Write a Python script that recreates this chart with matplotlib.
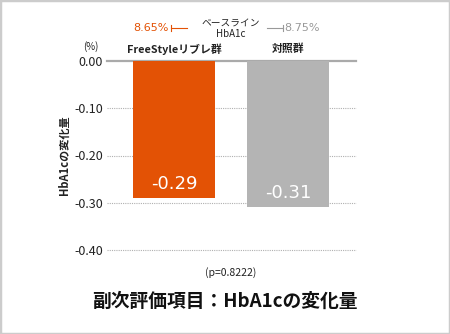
import matplotlib.pyplot as plt
from matplotlib.lines import Line2D
from matplotlib.patches import Rectangle

plt.rcParams['font.family'] = ['Noto Sans CJK JP', 'DejaVu Sans']

groups = ["FreeStyleリブレ群", "対照群"]
changes = [-0.29, -0.31]
baseline = ["8.65%", "8.75%"]
colors = ["#E35205", "#B4B4B4"]
yticks = [0.0, -0.1, -0.2, -0.3, -0.4]

W, H = 450, 334
fig = plt.figure(figsize=(4.5, 3.34), dpi=100)

def px(x, y):
    # pixel position from top-left -> figure fraction
    return x / W, 1 - y / H

ax = fig.add_axes([107 / W, 84 / H, 249 / W, 189 / H])
x = range(len(groups))
bars = ax.bar(x, changes, width=0.72, color=colors, zorder=3)
ax.set_xlim(-0.588, 1.596)
ax.set_ylim(-0.40, 0.0)

for t in yticks:
    if t == 0:
        ax.axhline(t, color="#aaaaaa", lw=1.6, zorder=2, clip_on=False)
    else:
        ax.axhline(t, color="#b0b0b0", lw=0.8, ls=(0, (1, 1)), zorder=2, clip_on=False)

ax.set_yticks(yticks)
ax.set_yticklabels([f"{t:.2f}" for t in yticks], fontsize=9, color="#222222")
ax.tick_params(axis="y", length=0, pad=3)
ax.set_xticks([])
for s in ax.spines.values():
    s.set_visible(False)
ax.patch.set_alpha(0)

for b, v in zip(bars, changes):
    ax.text(b.get_x() + b.get_width() / 2, v + 0.03, f"{v:.2f}", ha="center", va="center",
            color="white", fontsize=13, family=["DejaVu Sans"], zorder=4)

for i, g in enumerate(groups):
    ax.text(i, 0.025, g, ha="center", va="center", fontsize=7.8, fontweight="bold", color="#222222")

ax.set_ylabel("HbA1cの変化量", fontsize=8, fontweight="bold", labelpad=2, color="#222222")
fig.text(*px(91, 47), "(%)", ha="center", va="center", fontsize=7, color="#222222")

# baseline annotation
fig.text(*px(231, 29), "ベースライン\nHbA1c", ha="center", va="center", fontsize=7,
         linespacing=1.0, color="#222222")
fig.text(*px(169, 28), baseline[0], ha="right", va="center", fontsize=8, color=colors[0],
         family=["DejaVu Sans"])
fig.text(*px(284, 28), baseline[1], ha="left", va="center", fontsize=8, color="#999999",
         family=["DejaVu Sans"])
for x0, x1, tick, c in [(171, 187, 171, colors[0]), (267, 283, 283, "#999999")]:
    fig.add_artist(Line2D([x0 / W, x1 / W], [1 - 28 / H] * 2, color=c, lw=0.8))
    fig.add_artist(Line2D([tick / W] * 2, [1 - 25 / H, 1 - 31 / H], color=c, lw=0.8))

fig.text(*px(231, 273), "(p=0.8222)", ha="center", va="center", fontsize=7.5, color="#222222")
fig.text(*px(225, 301), "副次評価項目：HbA1cの変化量", ha="center", va="center", fontsize=13.5,
         fontweight="bold", color="#111111")

fig.add_artist(Rectangle((0, 0), 1, 1, transform=fig.transFigure, fill=False,
                         edgecolor="#cccccc", lw=2.5))

fig.savefig("out.png", dpi=100)
